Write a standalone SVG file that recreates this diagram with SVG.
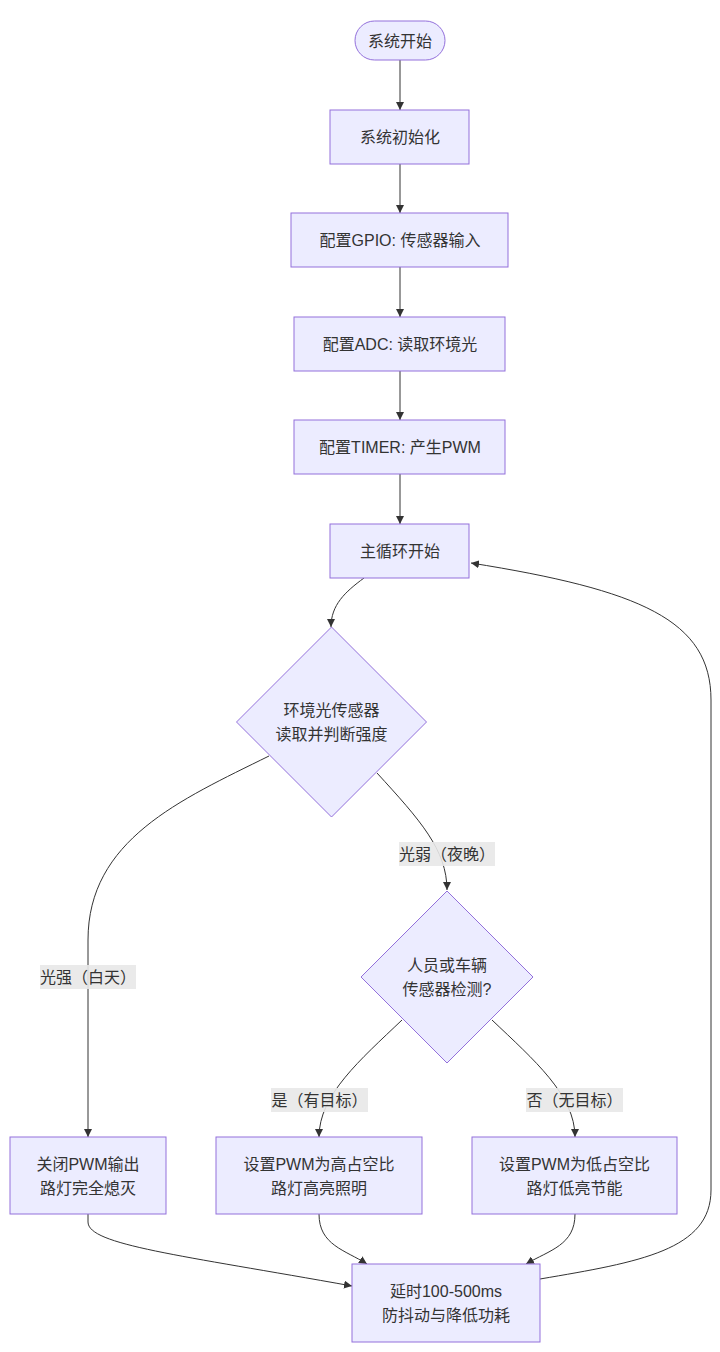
<svg xmlns="http://www.w3.org/2000/svg" width="720" height="1352" viewBox="0 0 720 1352">
<style>
.node rect,.node polygon{fill:#ECECFF;stroke:#9370DB;stroke-width:1}
text{font-family:"Liberation Sans","Noto Sans CJK SC",sans-serif;font-size:16px;fill:#333;text-anchor:middle;dominant-baseline:central}
.edge{fill:none;stroke:#333;stroke-width:1}
.lbl{fill:#e8e8e8;opacity:0.9}
</style>
<defs>
<marker id="arr" viewBox="0 0 10 10" refX="10" refY="5" markerWidth="8" markerHeight="8" markerUnits="userSpaceOnUse" orient="auto">
<path d="M0,0 L10,5 L0,10 z" fill="#333"/>
</marker>
</defs>
<rect width="720" height="1352" fill="#fff"/>
<g id="connectors">
<path class="edge" d="M400,60 L400,110" marker-end="url(#arr)"/>
<path class="edge" d="M400,164 L400,213" marker-end="url(#arr)"/>
<path class="edge" d="M400,267 L400,317" marker-end="url(#arr)"/>
<path class="edge" d="M400,371 L400,420" marker-end="url(#arr)"/>
<path class="edge" d="M400,474 L400,524" marker-end="url(#arr)"/>
<path class="edge" d="M364,578 C345,592 331,605 331,627" marker-end="url(#arr)"/>
<path class="edge" d="M269,756 C180,800 88,840 88,940 L88,1137" marker-end="url(#arr)"/>
<path class="edge" d="M377,773 C420,820 447,850 447,890" marker-end="url(#arr)"/>
<path class="edge" d="M402,1020 C360,1060 319,1095 319,1137" marker-end="url(#arr)"/>
<path class="edge" d="M492,1020 C534,1060 575,1095 575,1137" marker-end="url(#arr)"/>
<path class="edge" d="M88,1214 L88,1222 C88,1245 180,1255 352,1286" marker-end="url(#arr)"/>
<path class="edge" d="M319,1214 C319,1245 345,1250 367,1264" marker-end="url(#arr)"/>
<path class="edge" d="M575,1214 C575,1245 550,1250 526,1264" marker-end="url(#arr)"/>
<path class="edge" d="M540,1279 C640,1262 711,1250 711,1190 L711,700 C711,620 640,590 471,563" marker-end="url(#arr)"/>
</g>
<g id="edge-labels">
<g id="lbl-weak"><rect class="lbl" x="399" y="842" width="96" height="24"/><text x="447" y="854">光弱（夜晚）</text></g>
<g id="lbl-strong"><rect class="lbl" x="40" y="965" width="96" height="24"/><text x="88" y="977">光强（白天）</text></g>
<g id="lbl-yes"><rect class="lbl" x="271" y="1088" width="97" height="24"/><text x="319.5" y="1100">是（有目标）</text></g>
<g id="lbl-no"><rect class="lbl" x="526" y="1088" width="97" height="24"/><text x="574.5" y="1100">否（无目标）</text></g>
</g>
<g id="start" class="node"><rect x="355" y="21" width="90" height="39" rx="19.5" ry="19.5"/><text x="400" y="41">系统开始</text></g>
<g id="init" class="node"><rect x="330" y="110" width="139" height="54"/><text x="400" y="137">系统初始化</text></g>
<g id="gpio" class="node"><rect x="291" y="213" width="217" height="54"/><text x="400" y="240">配置GPIO: 传感器输入</text></g>
<g id="adc" class="node"><rect x="294" y="317" width="211" height="54"/><text x="400" y="344">配置ADC: 读取环境光</text></g>
<g id="timer" class="node"><rect x="294" y="420" width="211" height="54"/><text x="400" y="447">配置TIMER: 产生PWM</text></g>
<g id="mainloop" class="node"><rect x="330" y="524" width="139" height="54"/><text x="400" y="551">主循环开始</text></g>
<g id="light" class="node"><polygon points="331.5,627 426.5,722 331.5,817 236.5,722"/><text x="331.5" y="710">环境光传感器</text><text x="331.5" y="734">读取并判断强度</text></g>
<g id="detect" class="node"><polygon points="447,891 533,977 447,1063 361,977"/><text x="447" y="965">人员或车辆</text><text x="447" y="989">传感器检测?</text></g>
<g id="off" class="node"><rect x="10" y="1137" width="156" height="77"/><text x="88" y="1164">关闭PWM输出</text><text x="88" y="1188">路灯完全熄灭</text></g>
<g id="high" class="node"><rect x="216" y="1137" width="206" height="77"/><text x="319" y="1164">设置PWM为高占空比</text><text x="319" y="1188">路灯高亮照明</text></g>
<g id="low" class="node"><rect x="472" y="1137" width="205" height="77"/><text x="574.5" y="1164">设置PWM为低占空比</text><text x="574.5" y="1188">路灯低亮节能</text></g>
<g id="delay" class="node"><rect x="352" y="1264" width="188" height="78"/><text x="446" y="1291">延时100-500ms</text><text x="446" y="1315">防抖动与降低功耗</text></g>
</svg>
